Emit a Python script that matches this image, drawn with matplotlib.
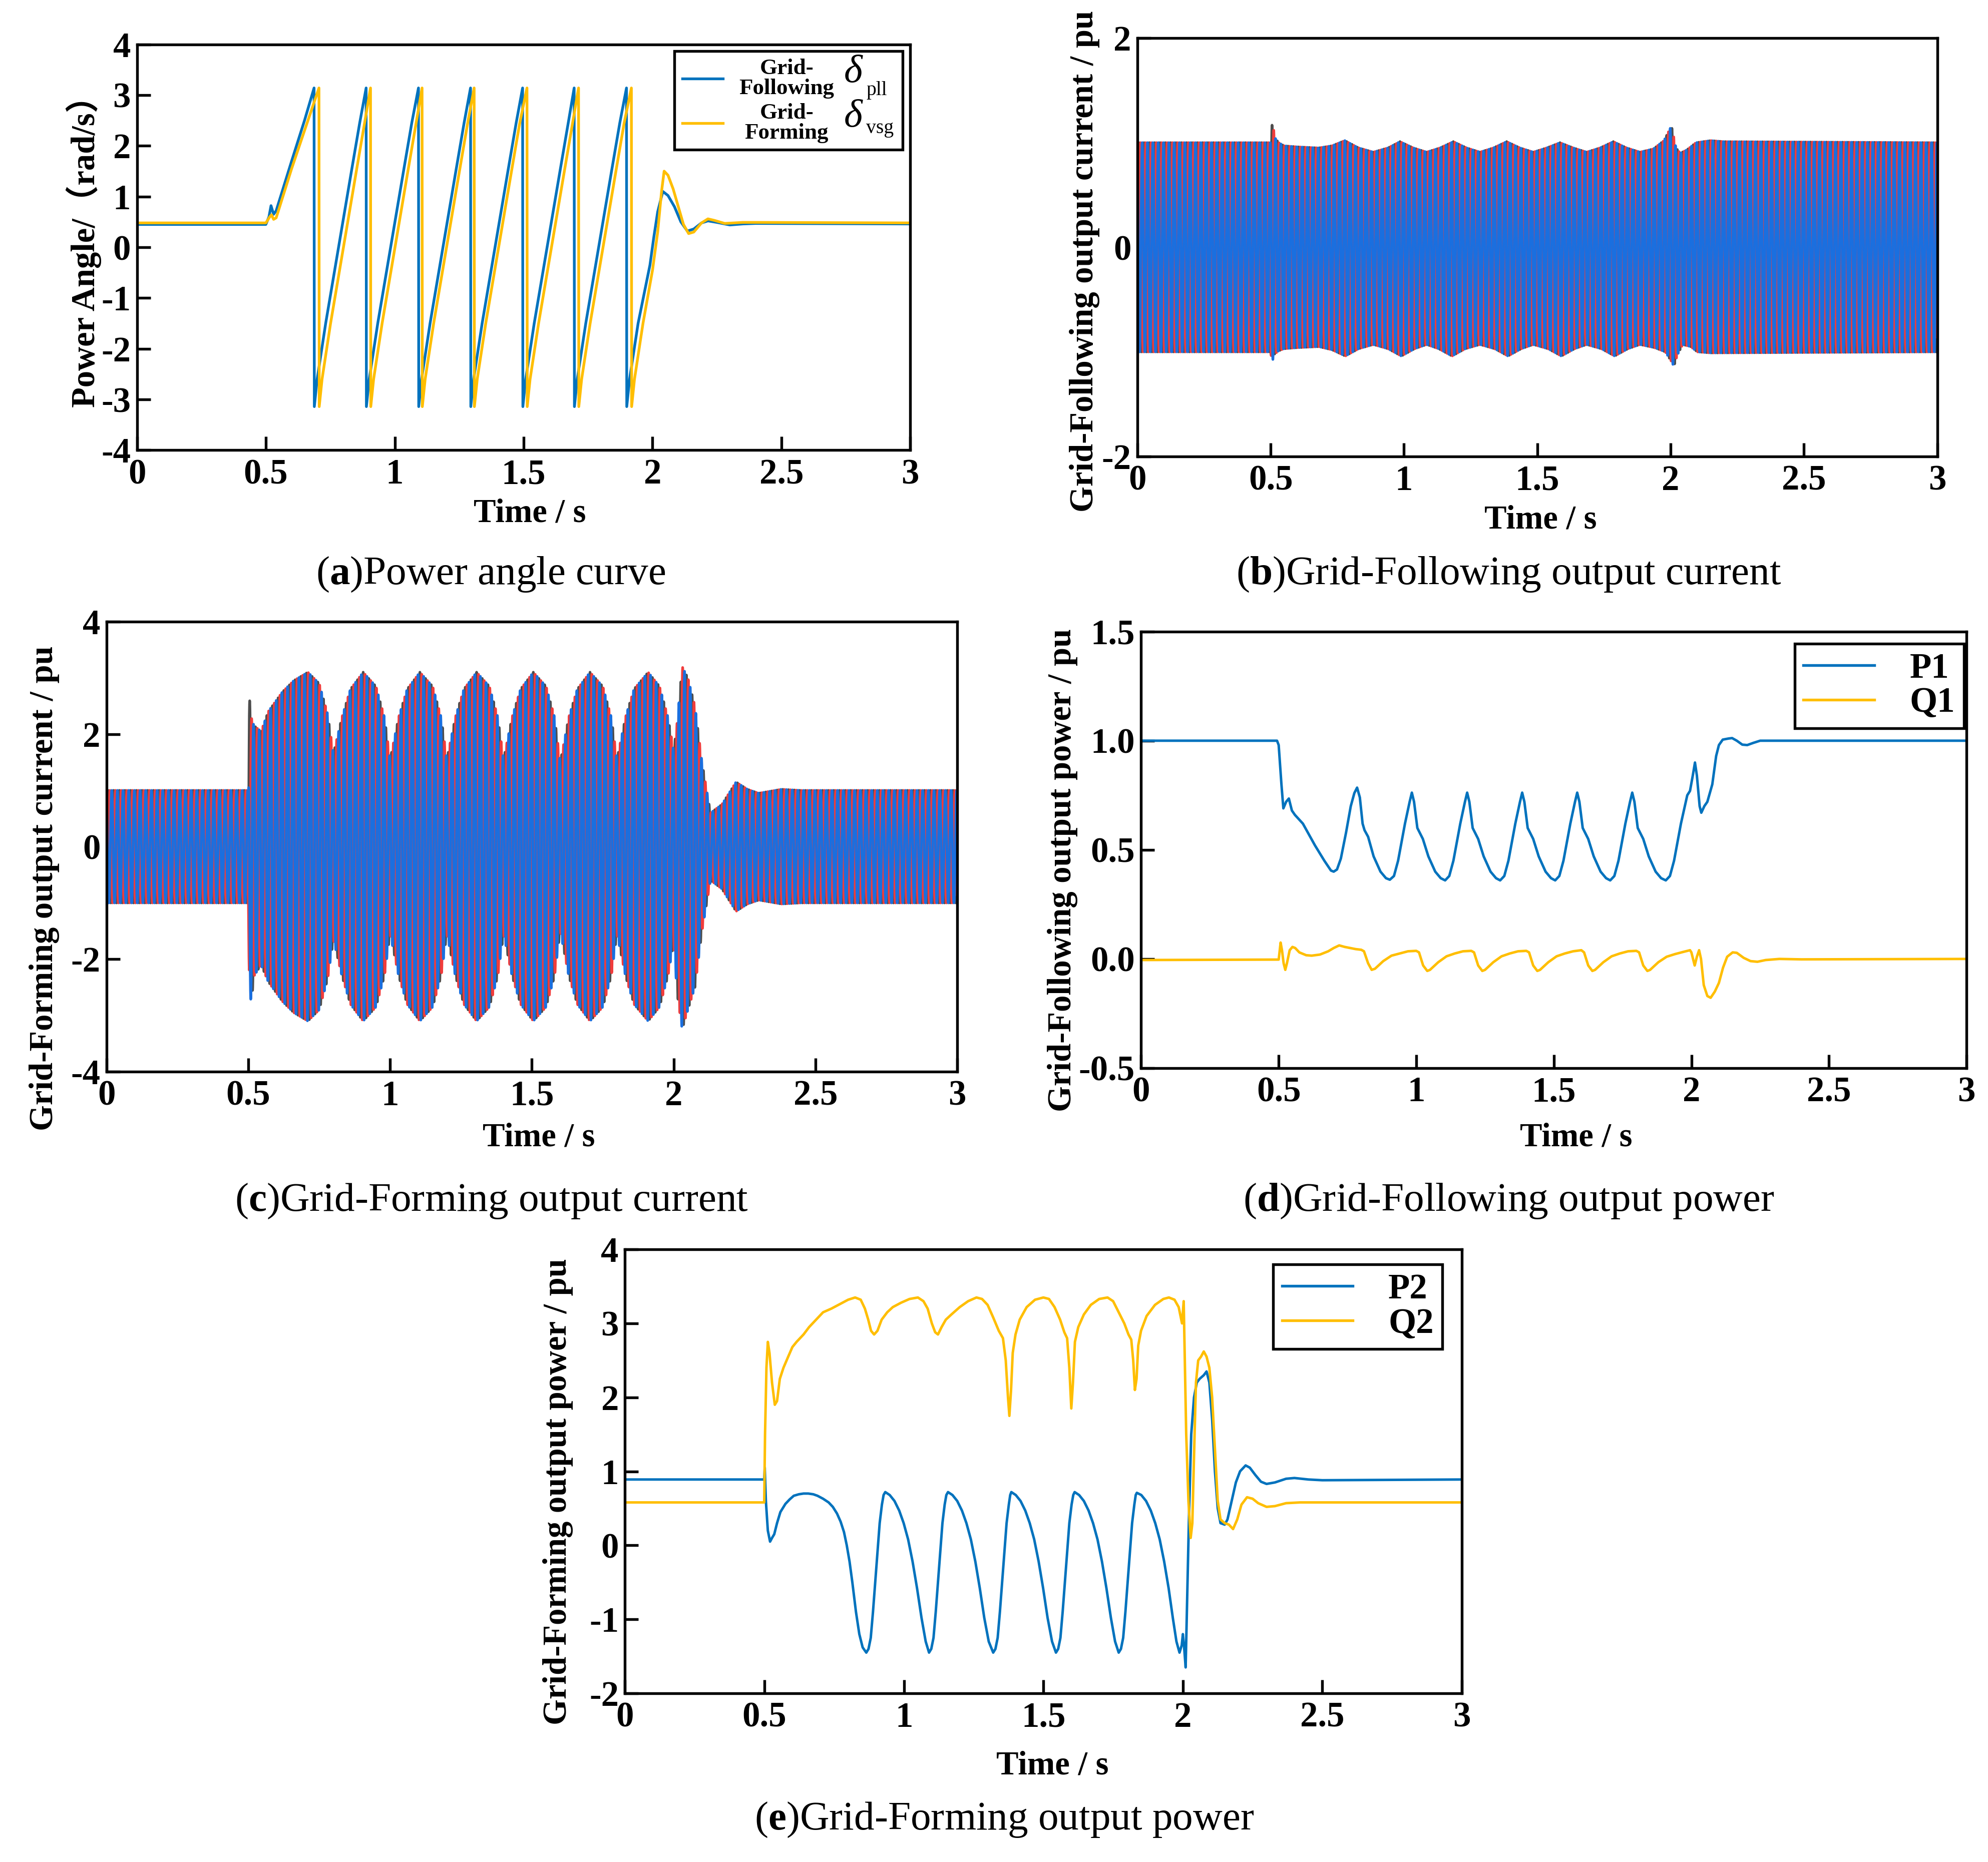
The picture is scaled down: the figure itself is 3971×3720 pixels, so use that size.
"""Five-panel fault ride-through figure: power angle, output currents and powers."""

import numpy as np
import matplotlib

matplotlib.use("Agg")
import matplotlib.pyplot as plt
from matplotlib.lines import Line2D
from matplotlib.patches import Rectangle

# ---------------------------------------------------------------- data
TIME_TICKS = [0, 0.5, 1, 1.5, 2, 2.5, 3]
TIME_LABELS = ["0", "0.5", "1", "1.5", "2", "2.5", "3"]

# (a) power angle, grid-following (pll) and grid-forming (vsg)
pll_t = [0, 0.5, 0.512, 0.52, 0.53, 0.54, 0.6, 0.65, 0.687,
         0.688, 0.699, 0.732, 0.782, 0.832, 0.864, 0.889,
         0.890, 0.901, 0.934, 0.984, 1.034, 1.066, 1.092,
         1.093, 1.104, 1.137, 1.187, 1.237, 1.269, 1.294,
         1.295, 1.306, 1.339, 1.389, 1.439, 1.471, 1.496,
         1.497, 1.508, 1.541, 1.591, 1.641, 1.673, 1.696,
         1.697, 1.708, 1.741, 1.791, 1.841, 1.873, 1.899,
         1.900, 1.911, 1.944, 1.990, 2.005, 2.020, 2.040, 2.060, 2.085, 2.110,
         2.135, 2.160, 2.190, 2.215, 2.250, 2.300, 2.350, 2.400, 3.0]
pll_v = [0.45, 0.45, 0.6, 0.82, 0.65, 0.72, 1.7, 2.5, 3.14,
         -3.14, -2.6, -1.5, 0.0, 1.5, 2.45, 3.14,
         -3.14, -2.6, -1.5, 0.0, 1.5, 2.45, 3.14,
         -3.14, -2.6, -1.5, 0.0, 1.5, 2.45, 3.14,
         -3.14, -2.6, -1.5, 0.0, 1.5, 2.45, 3.14,
         -3.14, -2.6, -1.5, 0.0, 1.5, 2.45, 3.14,
         -3.14, -2.6, -1.5, 0.0, 1.5, 2.45, 3.14,
         -3.14, -2.6, -1.5, -0.35, 0.2, 0.7, 1.1, 1.02, 0.8, 0.5,
         0.32, 0.36, 0.48, 0.52, 0.49, 0.44, 0.46, 0.47, 0.46]
vsg_t = [0, 0.5, 0.515, 0.522, 0.53, 0.54, 0.6, 0.65, 0.706,
         0.707, 0.718, 0.751, 0.801, 0.851, 0.883, 0.906,
         0.907, 0.918, 0.951, 1.001, 1.051, 1.083, 1.106,
         1.107, 1.118, 1.151, 1.201, 1.251, 1.283, 1.308,
         1.309, 1.320, 1.353, 1.403, 1.453, 1.485, 1.513,
         1.514, 1.525, 1.558, 1.608, 1.658, 1.690, 1.713,
         1.714, 1.725, 1.758, 1.808, 1.858, 1.890, 1.918,
         1.919, 1.930, 1.963, 2.000, 2.020, 2.035, 2.045, 2.060, 2.080, 2.100,
         2.120, 2.140, 2.160, 2.190, 2.215, 2.240, 2.280, 2.350, 2.400, 3.0]
vsg_v = [0.48, 0.48, 0.6, 0.64, 0.55, 0.58, 1.55, 2.3, 3.14,
         -3.14, -2.6, -1.5, 0.0, 1.5, 2.45, 3.14,
         -3.14, -2.6, -1.5, 0.0, 1.5, 2.45, 3.14,
         -3.14, -2.6, -1.5, 0.0, 1.5, 2.45, 3.14,
         -3.14, -2.6, -1.5, 0.0, 1.5, 2.45, 3.14,
         -3.14, -2.6, -1.5, 0.0, 1.5, 2.45, 3.14,
         -3.14, -2.6, -1.5, 0.0, 1.5, 2.45, 3.14,
         -3.14, -2.6, -1.5, -0.45, 0.3, 1.1, 1.5, 1.42, 1.15, 0.8,
         0.45, 0.27, 0.3, 0.48, 0.56, 0.53, 0.47, 0.49, 0.49, 0.48]

# (b) grid-following current envelope (upper peak / lower peak magnitude)
gfl_up_t = [0, 0.5, 0.503, 0.507, 0.515, 0.53, 0.55, 0.6, 0.68, 0.73,
            0.778, 0.83, 0.885, 0.94, 0.985, 1.035, 1.085, 1.135, 1.185, 1.235,
            1.285, 1.335, 1.385, 1.435, 1.485, 1.535, 1.585, 1.635, 1.685, 1.735,
            1.785, 1.835, 1.885, 1.935, 1.975, 2.003, 2.008, 2.02, 2.036, 2.06,
            2.095, 2.15, 2.2, 3.0]
gfl_up_v = [1.0, 1.0, 1.12, 1.21, 1.05, 1.0, 0.97, 0.96, 0.95, 0.97,
            1.02, 0.95, 0.91, 0.95, 1.01, 0.95, 0.91, 0.95, 1.01, 0.95,
            0.91, 0.95, 1.01, 0.95, 0.91, 0.95, 1.0, 0.95, 0.91, 0.95,
            1.01, 0.95, 0.91, 0.94, 1.02, 1.16, 1.1, 0.95, 0.9, 0.93,
            1.0, 1.02, 1.01, 1.0]
gfl_lo_t = [0, 0.5, 0.503, 0.506, 0.515, 0.53, 0.55, 0.6, 0.68, 0.73,
            0.78, 0.83, 0.885, 0.94, 0.99, 1.04, 1.085, 1.13, 1.18, 1.23,
            1.285, 1.34, 1.39, 1.44, 1.485, 1.54, 1.59, 1.64, 1.685, 1.74,
            1.79, 1.84, 1.885, 1.94, 1.98, 2.005, 2.012, 2.025, 2.045, 2.075,
            2.1, 2.15, 3.0]
gfl_lo_v = [1.0, 1.0, 1.06, 1.09, 1.02, 0.99, 0.97, 0.96, 0.95, 0.98,
            1.04, 0.97, 0.93, 0.97, 1.04, 0.97, 0.93, 0.97, 1.04, 0.97,
            0.93, 0.97, 1.04, 0.97, 0.93, 0.97, 1.04, 0.97, 0.93, 0.97,
            1.04, 0.97, 0.93, 0.96, 1.0, 1.1, 1.14, 1.03, 0.93, 0.95,
            1.0, 1.01, 1.0]

# (c) grid-forming current envelope
gfm_env_t = [0, 0.5, 0.503, 0.51, 0.52, 0.545, 0.57, 0.62, 0.66, 0.71,
             0.75, 0.78, 0.80, 0.83, 0.86, 0.905, 0.95, 0.98, 1.0, 1.03,
             1.06, 1.105, 1.15, 1.18, 1.2, 1.23, 1.26, 1.305, 1.35, 1.38,
             1.4, 1.43, 1.46, 1.505, 1.55, 1.58, 1.6, 1.63, 1.66, 1.705,
             1.75, 1.78, 1.8, 1.83, 1.86, 1.91, 1.95, 1.98, 2.0, 2.012,
             2.03, 2.05, 2.075, 2.1, 2.13, 2.17, 2.22, 2.26, 2.3, 2.38,
             2.45, 3.0]
gfm_up_v = [1.0, 1.0, 2.7, 2.3, 2.15, 2.05, 2.4, 2.75, 2.95, 3.1,
            2.9, 2.35, 1.65, 2.3, 2.8, 3.1, 2.85, 2.3, 1.55, 2.3,
            2.8, 3.1, 2.85, 2.3, 1.55, 2.3, 2.8, 3.1, 2.85, 2.3,
            1.55, 2.3, 2.8, 3.1, 2.85, 2.3, 1.5, 2.3, 2.8, 3.1,
            2.85, 2.3, 1.55, 2.3, 2.8, 3.1, 2.85, 2.3, 1.7, 2.2,
            3.2, 3.0, 2.5, 1.5, 0.6, 0.75, 1.15, 1.02, 0.95, 1.02,
            1.0, 1.0]
gfm_lo_v = [1.0, 1.0, 2.4, 2.8, 2.3, 2.1, 2.4, 2.75, 2.95, 3.1,
            2.9, 2.35, 1.65, 2.3, 2.8, 3.1, 2.85, 2.3, 1.55, 2.3,
            2.8, 3.1, 2.85, 2.3, 1.55, 2.3, 2.8, 3.1, 2.85, 2.3,
            1.55, 2.3, 2.8, 3.1, 2.85, 2.3, 1.5, 2.3, 2.8, 3.1,
            2.85, 2.3, 1.55, 2.3, 2.8, 3.1, 2.85, 2.3, 1.7, 2.6,
            3.25, 2.9, 2.5, 1.5, 0.6, 0.75, 1.15, 1.02, 0.95, 1.02,
            1.0, 1.0]

# (d) grid-following active / reactive power
p1_t = [0, 0.494, 0.5, 0.51, 0.517, 0.527, 0.537, 0.548, 0.559, 0.588,
        0.632, 0.666, 0.69, 0.7, 0.712, 0.726, 0.745, 0.762, 0.775, 0.785,
        0.795, 0.805, 0.812, 0.825, 0.845, 0.87, 0.89, 0.904,
        0.919, 0.934, 0.959, 0.976, 0.984, 0.992, 1.004, 1.012, 1.024, 1.044, 1.069, 1.089, 1.105,
        1.12, 1.135, 1.16, 1.177, 1.185, 1.193, 1.205, 1.213, 1.225, 1.245, 1.27, 1.29, 1.305,
        1.32, 1.335, 1.36, 1.377, 1.385, 1.393, 1.405, 1.413, 1.425, 1.445, 1.47, 1.49, 1.505,
        1.52, 1.535, 1.56, 1.577, 1.585, 1.593, 1.605, 1.613, 1.625, 1.645, 1.67, 1.69, 1.705,
        1.72, 1.735, 1.76, 1.777, 1.785, 1.793, 1.805, 1.813, 1.825, 1.845, 1.87, 1.89, 1.907,
        1.922, 1.937, 1.962, 1.985, 1.995, 2.005, 2.013, 2.02, 2.03, 2.036,
        2.047, 2.058, 2.076, 2.09, 2.1, 2.114, 2.135, 2.148, 2.165, 2.185,
        2.203, 2.225, 2.25, 2.3, 3.0]
p1_v = [1.0, 1.0, 0.98, 0.80, 0.69, 0.72, 0.735, 0.68, 0.66, 0.62,
        0.52, 0.45, 0.405, 0.40, 0.41, 0.46, 0.58, 0.70, 0.76, 0.785,
        0.74, 0.62, 0.59, 0.56, 0.47, 0.40, 0.37, 0.363,
        0.38, 0.45, 0.62, 0.72, 0.762, 0.72, 0.60, 0.58, 0.55, 0.47, 0.40, 0.37, 0.36,
        0.38, 0.45, 0.62, 0.72, 0.762, 0.72, 0.60, 0.58, 0.55, 0.47, 0.40, 0.37, 0.36,
        0.38, 0.45, 0.62, 0.72, 0.762, 0.72, 0.60, 0.58, 0.55, 0.47, 0.40, 0.37, 0.36,
        0.38, 0.45, 0.62, 0.72, 0.762, 0.72, 0.60, 0.58, 0.55, 0.47, 0.40, 0.37, 0.36,
        0.38, 0.45, 0.62, 0.72, 0.762, 0.72, 0.60, 0.58, 0.55, 0.47, 0.40, 0.37, 0.36,
        0.38, 0.45, 0.62, 0.75, 0.77, 0.84, 0.90, 0.84, 0.70, 0.67,
        0.70, 0.72, 0.80, 0.93, 0.98, 1.005, 1.01, 1.012, 1.0, 0.982,
        0.98, 0.99, 1.0, 1.0, 1.0]
q1_t = [0, 0.5, 0.503, 0.507, 0.512, 0.518, 0.524, 0.53, 0.54, 0.55,
        0.56, 0.575, 0.6, 0.62, 0.65, 0.68, 0.7, 0.72, 0.74, 0.76,
        0.78, 0.8, 0.81, 0.825, 0.838, 0.85, 0.88, 0.91, 0.94, 0.97,
        1.0, 1.01, 1.025, 1.04, 1.05, 1.08, 1.11, 1.14, 1.17, 1.2,
        1.21, 1.225, 1.24, 1.25, 1.28, 1.31, 1.34, 1.37, 1.4, 1.41,
        1.425, 1.44, 1.45, 1.48, 1.51, 1.54, 1.57, 1.6, 1.61, 1.625,
        1.64, 1.65, 1.68, 1.71, 1.74, 1.77, 1.8, 1.81, 1.825, 1.84,
        1.85, 1.88, 1.91, 1.94, 1.97, 1.995, 2.0, 2.012, 2.02, 2.028,
        2.035, 2.045, 2.058, 2.07, 2.085, 2.1, 2.115, 2.13, 2.15, 2.165,
        2.19, 2.215, 2.24, 2.27, 2.32, 2.4, 3.0]
q1_v = [-0.005, -0.003, 0.03, 0.075, 0.04, -0.02, -0.05, -0.02, 0.04, 0.055,
        0.05, 0.03, 0.017, 0.015, 0.02, 0.035, 0.05, 0.062, 0.055, 0.05,
        0.045, 0.042, 0.035, -0.02, -0.05, -0.045, -0.01, 0.015, 0.025, 0.035,
        0.037, 0.03, -0.03, -0.055, -0.05, -0.015, 0.012, 0.025, 0.035, 0.037,
        0.03, -0.03, -0.055, -0.05, -0.015, 0.012, 0.025, 0.035, 0.037, 0.03,
        -0.03, -0.055, -0.05, -0.015, 0.012, 0.025, 0.035, 0.04, 0.03, -0.03,
        -0.055, -0.05, -0.015, 0.012, 0.025, 0.035, 0.037, 0.03, -0.03, -0.055,
        -0.05, -0.015, 0.01, 0.022, 0.032, 0.04, 0.03, -0.03, 0.01, 0.04,
        0.0, -0.12, -0.17, -0.178, -0.15, -0.11, -0.04, 0.01, 0.03, 0.028,
        0.005, -0.01, -0.013, -0.005, 0.0, -0.002, 0.0]

# (e) grid-forming active / reactive power
p2_t = [0, 0.499, 0.501, 0.505, 0.512, 0.52, 0.527, 0.535, 0.545, 0.557,
        0.575, 0.59, 0.605, 0.623, 0.64, 0.657, 0.675, 0.69, 0.71, 0.73,
        0.745, 0.76, 0.773, 0.785, 0.795, 0.805, 0.815, 0.828, 0.84, 0.852,
        0.865,
        0.873, 0.881, 0.889, 0.897, 0.905, 0.913, 0.921, 0.927, 0.933,
        0.949, 0.966, 0.983, 0.999, 1.015, 1.031, 1.047, 1.063, 1.078, 1.09,
        1.098, 1.106, 1.114, 1.122, 1.130, 1.138, 1.146, 1.152, 1.158,
        1.174, 1.191, 1.208, 1.224, 1.240, 1.256, 1.272, 1.288, 1.304, 1.32,
        1.328, 1.336, 1.344, 1.352, 1.360, 1.368, 1.376, 1.381, 1.385,
        1.401, 1.418, 1.435, 1.451, 1.467, 1.483, 1.499, 1.515, 1.531, 1.545,
        1.553, 1.561, 1.569, 1.577, 1.585, 1.593, 1.601, 1.607, 1.612,
        1.628, 1.645, 1.662, 1.678, 1.694, 1.710, 1.726, 1.742, 1.757, 1.77,
        1.778, 1.786, 1.794, 1.802, 1.810, 1.818, 1.826, 1.831, 1.835,
        1.851, 1.868, 1.885, 1.901, 1.917, 1.933, 1.949, 1.964, 1.977, 1.988,
        1.996, 2.0, 2.004, 2.01, 2.015, 2.022, 2.03, 2.04, 2.05, 2.06,
        2.075, 2.085, 2.095, 2.105, 2.115, 2.125, 2.135, 2.15, 2.16, 2.175,
        2.19, 2.205, 2.225, 2.24, 2.26, 2.28, 2.3, 2.33, 2.37, 2.4,
        2.45, 2.5, 3.0]
p2_v = [0.89, 0.89, 1.05, 0.6, 0.2, 0.05, 0.1, 0.15, 0.3, 0.45,
        0.56, 0.62, 0.67, 0.69, 0.7, 0.70, 0.69, 0.67, 0.63, 0.58,
        0.52, 0.43, 0.32, 0.18, 0.0, -0.22, -0.5, -0.9, -1.2, -1.38,
        -1.45,
        -1.4, -1.25, -0.9, -0.5, -0.1, 0.3, 0.55, 0.68, 0.72,
        0.68, 0.6, 0.47, 0.3, 0.08, -0.22, -0.58, -0.98, -1.3, -1.45,
        -1.4, -1.25, -0.9, -0.5, -0.1, 0.3, 0.55, 0.68, 0.72,
        0.68, 0.6, 0.47, 0.3, 0.08, -0.22, -0.58, -0.98, -1.3, -1.45,
        -1.4, -1.25, -0.9, -0.5, -0.1, 0.3, 0.55, 0.68, 0.72,
        0.68, 0.6, 0.47, 0.3, 0.08, -0.22, -0.58, -0.98, -1.3, -1.45,
        -1.4, -1.25, -0.9, -0.5, -0.1, 0.3, 0.55, 0.68, 0.72,
        0.68, 0.6, 0.47, 0.3, 0.08, -0.22, -0.58, -0.98, -1.3, -1.45,
        -1.4, -1.25, -0.9, -0.5, -0.1, 0.3, 0.55, 0.68, 0.71,
        0.68, 0.6, 0.47, 0.3, 0.08, -0.22, -0.58, -0.98, -1.3, -1.45,
        -1.35, -1.2, -1.35, -1.65, -0.8, 0.4, 1.5, 2.0, 2.2, 2.25,
        2.3, 2.35, 2.2, 1.7, 1.0, 0.5, 0.3, 0.28, 0.35, 0.6,
        0.85, 1.0, 1.08, 1.05, 0.95, 0.86, 0.83, 0.85, 0.9, 0.91,
        0.89, 0.88, 0.89]
q2_t = [0, 0.499, 0.502, 0.507, 0.512, 0.518, 0.527, 0.537, 0.545, 0.555,
        0.568, 0.585, 0.6, 0.615, 0.64, 0.66, 0.685, 0.71, 0.74, 0.77,
        0.8, 0.825, 0.845, 0.86, 0.872, 0.882, 0.893, 0.905, 0.92, 0.94,
        0.96, 0.99, 1.02, 1.05, 1.07, 1.085, 1.1, 1.112, 1.122, 1.135,
        1.15, 1.17, 1.2, 1.23, 1.26, 1.28, 1.3, 1.32, 1.34, 1.355,
        1.365, 1.373, 1.378, 1.384, 1.39, 1.4, 1.415, 1.44, 1.47, 1.5,
        1.52, 1.54, 1.56, 1.575, 1.585, 1.593, 1.6, 1.606, 1.613, 1.625,
        1.645, 1.67, 1.7, 1.73, 1.75, 1.77, 1.79, 1.805, 1.815, 1.822,
        1.828, 1.834, 1.84, 1.85, 1.87, 1.9, 1.93, 1.95, 1.97, 1.985,
        1.997, 2.003, 2.007, 2.012, 2.02, 2.028, 2.034, 2.04, 2.047, 2.055,
        2.065, 2.075, 2.085, 2.095, 2.105, 2.115, 2.125, 2.135, 2.15, 2.165,
        2.18, 2.195, 2.21, 2.23, 2.25, 2.27, 2.3, 2.33, 2.37, 2.42,
        3.0]
q2_v = [0.58, 0.58, 1.5, 2.4, 2.75, 2.6, 2.2, 1.9, 1.95, 2.25,
        2.4, 2.55, 2.68, 2.75, 2.85, 2.95, 3.05, 3.15, 3.2, 3.26,
        3.32, 3.35, 3.32, 3.2, 3.05, 2.9, 2.85, 2.9, 3.05, 3.15,
        3.22, 3.28, 3.33, 3.35, 3.3, 3.2, 3.0, 2.88, 2.85, 2.95,
        3.05, 3.12, 3.22, 3.3, 3.35, 3.33, 3.25, 3.08, 2.9, 2.8,
        2.5, 2.0, 1.75, 2.1, 2.6, 2.85, 3.05, 3.22, 3.32, 3.35,
        3.33, 3.22, 3.05, 2.88, 2.8, 2.4, 1.85, 2.2, 2.75, 2.95,
        3.12, 3.25, 3.33, 3.35, 3.3, 3.15, 3.0, 2.85, 2.78, 2.5,
        2.1, 2.25, 2.7, 2.9, 3.1, 3.25, 3.33, 3.35, 3.32, 3.22,
        3.0, 3.3, 2.5, 1.5, 0.6, 0.1, 0.3, 1.2, 2.2, 2.5,
        2.55, 2.62, 2.55, 2.4, 2.0, 1.3, 0.6, 0.35, 0.3, 0.28,
        0.22, 0.35, 0.55, 0.65, 0.63, 0.57, 0.52, 0.53, 0.57, 0.58,
        0.58]

# ---------------------------------------------------------------- style
BLUE = "#0072BD"
YELLOW = "#FFBE00"
PHASE_COLORS = ["#4D4D4D", "#F03C3C", "#1A6FDF"]  # phase a, b, c
F_GRID = 50.0  # Hz, grid frequency of the three-phase currents
FS = 20000.0   # samples per second for the drawn waveforms

TICK_SIZE = 17
LABEL_SIZE = 16
CAPTION_SIZE = 19.5

plt.rcParams["font.family"] = ["Liberation Serif", "Noto Sans CJK SC"]
plt.rcParams["axes.unicode_minus"] = False
plt.rcParams["mathtext.fontset"] = "custom"
plt.rcParams["mathtext.rm"] = "Liberation Serif"
plt.rcParams["mathtext.it"] = "Liberation Serif:italic"
plt.rcParams["mathtext.bf"] = "Liberation Serif:bold"


def three_phase(t, up_t, up_v, lo_t, lo_v):
    """Three 50 Hz phases whose positive / negative peaks follow the read envelopes."""
    up = np.interp(t, up_t, up_v)
    lo = np.interp(t, lo_t, lo_v)
    waves = []
    for k in range(3):
        s = np.sin(2 * np.pi * F_GRID * t - k * 2 * np.pi / 3)
        waves.append(np.where(s >= 0, up * s, lo * s))
    return waves


def style_axes(ax, ylim, yticks, ylabels, ylabel, ylabel_xy, xlabel_xy, ylabel_family=None):
    ax.set_xlim(0, 3)
    ax.set_ylim(*ylim)
    ax.set_xticks(TIME_TICKS, TIME_LABELS, fontsize=TICK_SIZE, fontweight="bold")
    ax.set_yticks(yticks, ylabels, fontsize=TICK_SIZE, fontweight="bold")
    ax.tick_params(direction="in", length=6.5, width=1.3, top=False, right=False)
    ax.tick_params(axis="x", pad=4)
    ax.tick_params(axis="y", pad=3)
    for spine in ax.spines.values():
        spine.set_linewidth(1.3)

    kw = {"fontsize": LABEL_SIZE, "fontweight": "bold"}
    if ylabel_family:
        kw["family"] = ylabel_family
    ax.set_ylabel(ylabel, **kw)
    ax.yaxis.set_label_coords(*ylabel_xy)
    ax.yaxis.label.set_va("center")
    ax.set_xlabel("Time / s", fontsize=LABEL_SIZE, fontweight="bold")
    ax.xaxis.set_label_coords(*xlabel_xy)
    ax.xaxis.label.set_va("center")


def power_legend(ax, labels, anchor):
    handles = [Line2D([], [], color=BLUE, lw=1.3), Line2D([], [], color=YELLOW, lw=1.3)]
    leg = ax.legend(handles, labels, loc="upper right", bbox_to_anchor=anchor,
                    prop={"weight": "bold", "size": TICK_SIZE}, frameon=True,
                    fancybox=False, framealpha=1, edgecolor="black",
                    borderpad=0.25, labelspacing=0.05, handlelength=2.0,
                    handletextpad=1.0, borderaxespad=0.0)
    leg.get_frame().set_linewidth(1.3)
    for txt in leg.get_texts():
        txt.set_ha("right")


def main():
    fig = plt.figure(figsize=(3971 / 300, 3720 / 300), dpi=300)
    t = np.arange(0.0, 3.0, 1.0 / FS)

    # (a) power angle
    ax = fig.add_axes([0.0689, 0.7582, 0.3890, 0.2180])
    ax.plot(pll_t, pll_v, color=BLUE, lw=1.3)
    ax.plot(vsg_t, vsg_v, color=YELLOW, lw=1.3)
    style_axes(ax, (-4, 4), list(range(-4, 5)), [str(v) for v in range(-4, 5)],
               "Power Angle/（rad/s）", (-0.069, 0.51), (0.508, -0.156),
               ylabel_family=["Liberation Serif", "Noto Sans CJK SC"])
    ax.add_patch(Rectangle((0.695, 0.741), 0.295, 0.243, transform=ax.transAxes,
                           facecolor="white", edgecolor="black", lw=1.3, zorder=5))
    entries = [
        (0.916, BLUE, "Grid-\nFollowing", 0.930, "pll", 0.875),
        (0.806, YELLOW, "Grid-\nForming", 0.820, "vsg", 0.781),
    ]
    for y, color, name, y_delta, sub, y_sub in entries:
        ax.add_line(Line2D([0.705, 0.758], [y, y], color=color, lw=1.3,
                           transform=ax.transAxes, zorder=6))
        ax.text(0.840, y, name, transform=ax.transAxes, ha="center", va="center",
                fontsize=10.8, fontweight="bold", linespacing=1.0, zorder=6)
        ax.text(0.914, y_delta, "δ", transform=ax.transAxes, ha="left", va="center",
                fontsize=19, style="italic", zorder=6)
        ax.text(0.943, y_sub, sub, transform=ax.transAxes, ha="left", va="baseline",
                fontsize=9.5, zorder=6)

    # (b) grid-following current
    ax = fig.add_axes([0.5721, 0.7548, 0.4024, 0.2248])
    for wave, color in zip(three_phase(t, gfl_up_t, gfl_up_v, gfl_lo_t, gfl_lo_v), PHASE_COLORS):
        ax.plot(t, wave, color=color, lw=1.25)
    style_axes(ax, (-2, 2), [-2, 0, 2], ["-2", "0", "2"],
               "Grid-Following output current / pu", (-0.066, 0.467), (0.504, -0.152))

    # (c) grid-forming current
    ax = fig.add_axes([0.0536, 0.4244, 0.4279, 0.2418])
    for wave, color in zip(three_phase(t, gfm_env_t, gfm_up_v, gfm_env_t, gfm_lo_v), PHASE_COLORS):
        ax.plot(t, wave, color=color, lw=1.25)
    style_axes(ax, (-4, 4), [-4, -2, 0, 2, 4], ["-4", "-2", "0", "2", "4"],
               "Grid-Forming output current / pu", (-0.073, 0.408), (0.508, -0.146))

    # (d) grid-following power
    ax = fig.add_axes([0.5740, 0.4264, 0.4152, 0.2344])
    ax.plot(p1_t, p1_v, color=BLUE, lw=1.2)
    ax.plot(q1_t, q1_v, color=YELLOW, lw=1.2)
    style_axes(ax, (-0.5, 1.5), [-0.5, 0.0, 0.5, 1.0, 1.5],
               ["-0.5", "0.0", "0.5", "1.0", "1.5"],
               "Grid-Following output power / pu", (-0.095, 0.453), (0.527, -0.160))
    power_legend(ax, ["P1", "Q1"], (0.997, 0.972))

    # (e) grid-forming power
    ax = fig.add_axes([0.3144, 0.0906, 0.4209, 0.2384])
    ax.plot(p2_t, p2_v, color=BLUE, lw=1.2)
    ax.plot(q2_t, q2_v, color=YELLOW, lw=1.2)
    style_axes(ax, (-2, 4), list(range(-2, 5)), [str(v) for v in range(-2, 5)],
               "Grid-Forming output power / pu", (-0.080, 0.454), (0.511, -0.163))
    power_legend(ax, ["P2", "Q2"], (0.977, 0.966))

    captions = [
        (0.2468, 0.6914, r"($\mathbf{a}$)Power angle curve"),
        (0.7589, 0.6914, r"($\mathbf{b}$)Grid-Following output current"),
        (0.2474, 0.3549, r"($\mathbf{c}$)Grid-Forming output current"),
        (0.7589, 0.3549, r"($\mathbf{d}$)Grid-Following output power"),
        (0.5051, 0.0225, r"($\mathbf{e}$)Grid-Forming output power"),
    ]
    for x, y, text in captions:
        fig.text(x, y, text, ha="center", va="center", fontsize=CAPTION_SIZE)

    fig.savefig("out.png", dpi=300)
    plt.close(fig)


if __name__ == "__main__":
    main()
